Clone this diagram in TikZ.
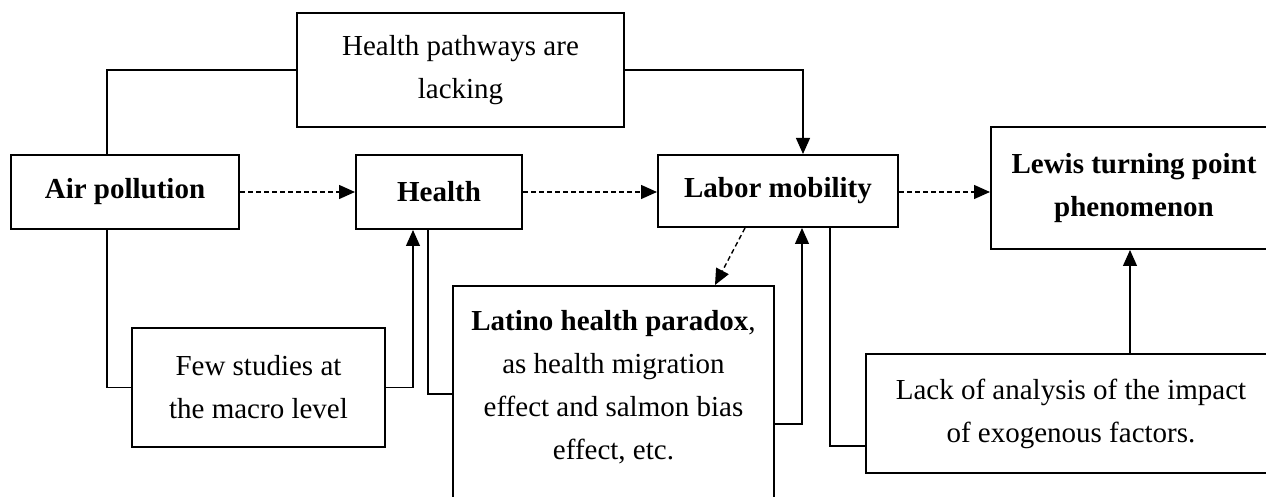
\documentclass[tikz,border=0pt]{standalone}
\usepackage{fontspec}
\setmainfont{Liberation Serif}
\usetikzlibrary{positioning, arrows.meta}

\tikzset{
  box/.style={draw, line width=1pt, inner sep=0pt, align=center, font=\fontsize{14.5}{21.5}\selectfont},
  mainbox/.style={box, font=\fontsize{14.5}{21.5}\selectfont\bfseries},
  link/.style={line width=0.6pt},
  tip/.style={link, -{Triangle[length=8pt,width=7pt]}},
  dashlink/.style={tip, line width=0.7pt, dash pattern=on 2.4pt off 1.6pt},
}

\begin{document}
\begin{tikzpicture}[x=0.5pt, y=-0.5pt]
        \useasboundingbox (0,0) rectangle (1266,497);
        \clip (0,0) rectangle (1266,497);

        % Draw the main chain
        \node[mainbox, minimum width=114pt, minimum height=37pt] (air) at (125,192) {Air pollution};
        \node[mainbox, minimum width=83pt, minimum height=37pt] (health) at (439,192) {Health};
        \node[mainbox, minimum width=120pt, minimum height=36pt] (labor) at (778,191) {Labor mobility};
        \node[mainbox, minimum width=143pt, minimum height=61pt] (lewis) at (1134,188) {Lewis turning point\\phenomenon};

        % Draw the gap boxes
        \node[box, minimum width=163.5pt, minimum height=57pt] (hpath) at (460.5,70) {Health pathways are\\lacking};
        \node[box, minimum width=126.5pt, minimum height=59.5pt] (few) at (258.5,387.5) {Few studies at\\the macro level};
        \node[box, minimum width=160.5pt, inner ysep=12pt, text depth=40pt, anchor=north] (latino) at (613.5,285) {\textbf{Latino health paradox},\\as health migration\\effect and salmon bias\\effect, etc.};
        \node[box, minimum width=205pt, minimum height=59.5pt] (lack) at (1071,413.5) {Lack of analysis of the impact\\of exogenous factors.};

        % Draw dashed links along the chain
        \draw[dashlink] (air.east) -- (health.west);
        \draw[dashlink] (health.east) -- (labor.west |- health.east);
        \draw[dashlink] (labor.east |- health.east) -- (lewis.west |- health.east);
        \draw[dashlink] ([xshift=-16.5pt]labor.south) -- ([xshift=50.75pt]latino.north);

        % Draw links through the gap boxes
        \draw[link] ([xshift=-9pt]air.north) |- (hpath.west);
        \draw[tip] (hpath.east) -| ([xshift=12.5pt]labor.north);

        \draw[link] ([xshift=-9pt]air.south) |- (few.west);
        \draw[tip] (few.east) -| ([xshift=-13pt]health.south);

        \draw[link] ([xshift=-5.5pt]health.south) |- ([yshift=-54.5pt]latino.north west);
        \draw[tip] ([yshift=-69.5pt]latino.north east) -| ([xshift=12pt]labor.south);

        \draw[link] ([xshift=26pt]labor.south) |- ([yshift=-16.25pt]lack.west);
        \draw[tip] ([xshift=29.5pt]lack.north) -- ([xshift=29.5pt]lack.north |- lewis.south);

\end{tikzpicture}
\end{document}
